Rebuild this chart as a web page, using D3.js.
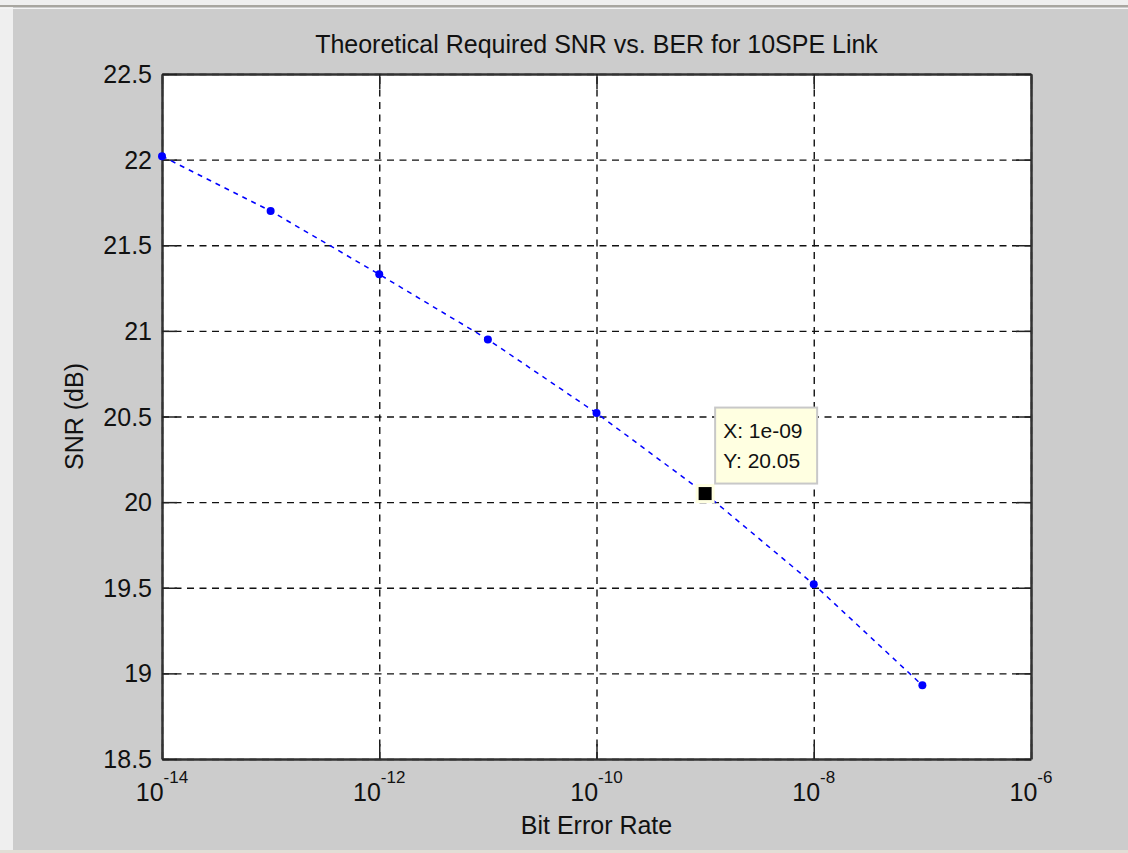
<!DOCTYPE html>
<html>
<head>
<meta charset="utf-8">
<script src="https://cdn.jsdelivr.net/npm/d3@7"></script>
<style>
  body { margin: 0; background: #cccccc; }
  text { font-family: "Liberation Sans", Arial, sans-serif; fill: #111; }
</style>
</head>
<body>
<div id="graph"></div>
<script>
// values
let ber = [1e-14, 1e-13, 1e-12, 1e-11, 1e-10, 1e-9, 1e-8, 1e-7];
let snr = [22.02, 21.70, 21.33, 20.95, 20.52, 20.05, 19.52, 18.93];
let xTicks = [1e-14, 1e-12, 1e-10, 1e-8, 1e-6];
let yTicks = [18.5, 19, 19.5, 20, 20.5, 21, 21.5, 22, 22.5];
let tipIndex = 5;
let tipLines = ["X: 1e-09", "Y: 20.05"];

let W = 1128, H = 853;
let pLeft = 162, pRight = 1031, pTop = 74, pBottom = 759;

let svg = d3.select("#graph").append("svg")
  .attr("width", W)
  .attr("height", H)
  .style("display", "block");

// window frame
svg.append("rect").attr("width", W).attr("height", H).attr("fill", "#cccccc");
svg.append("rect").attr("width", 13).attr("height", H).attr("fill", "#efefef");
svg.append("rect").attr("width", W).attr("height", 5).attr("fill", "#efefef");
svg.append("rect").attr("y", 5).attr("width", W).attr("height", 2).attr("fill", "#a8a6a0");
svg.append("rect").attr("y", 8).attr("width", W).attr("height", 1).attr("fill", "#f4f4f4");
svg.append("rect").attr("y", 850).attr("width", W).attr("height", 3).attr("fill", "#e2ded6");

let xScale = d3.scaleLog()
  .domain([1e-14, 1e-6])
  .range([pLeft, pRight]);

let yScale = d3.scaleLinear()
  .domain([18.5, 22.5])
  .range([pBottom, pTop]);

// plot area
svg.append("rect")
  .attr("x", pLeft).attr("y", pTop)
  .attr("width", pRight - pLeft).attr("height", pBottom - pTop)
  .attr("fill", "white");

// grid
let xGrid = svg.append("g")
  .attr("transform", "translate(0," + pBottom + ")")
  .call(d3.axisBottom(xScale).tickValues(xTicks).tickSize(-(pBottom - pTop)).tickFormat(""));
let yGrid = svg.append("g")
  .attr("transform", "translate(" + pLeft + ",0)")
  .call(d3.axisLeft(yScale).tickValues(yTicks).tickSize(-(pRight - pLeft)).tickFormat(""));
[xGrid, yGrid].forEach(function (g) {
  g.select(".domain").remove();
  g.selectAll("line")
    .attr("stroke", "#111")
    .attr("stroke-width", 1.4)
    .attr("stroke-dasharray", "7,5.5");
});

// inward ticks on four sides
let tl = 15;
let axes = [
  svg.append("g").attr("transform", "translate(0," + pBottom + ")")
    .call(d3.axisBottom(xScale).tickValues(xTicks).tickSizeInner(-tl).tickSizeOuter(0).tickFormat("")),
  svg.append("g").attr("transform", "translate(0," + pTop + ")")
    .call(d3.axisTop(xScale).tickValues(xTicks).tickSizeInner(-tl).tickSizeOuter(0).tickFormat("")),
  svg.append("g").attr("transform", "translate(" + pLeft + ",0)")
    .call(d3.axisLeft(yScale).tickValues(yTicks).tickSizeInner(-tl).tickSizeOuter(0).tickFormat("")),
  svg.append("g").attr("transform", "translate(" + pRight + ",0)")
    .call(d3.axisRight(yScale).tickValues(yTicks).tickSizeInner(-tl).tickSizeOuter(0).tickFormat(""))
];
axes.forEach(function (g) {
  g.selectAll("line").attr("stroke", "#222").attr("stroke-width", 1.5);
  g.select(".domain").attr("stroke", "#333").attr("stroke-width", 2.5);
});

// tick labels
svg.append("g").selectAll("text")
  .data(yTicks)
  .enter().append("text")
  .attr("x", pLeft - 10)
  .attr("y", function (d) { return yScale(d); })
  .attr("dy", "0.36em")
  .attr("text-anchor", "end")
  .attr("font-size", 25)
  .text(function (d) { return d; });

let xl = svg.append("g").selectAll("text")
  .data(xTicks)
  .enter().append("text")
  .attr("x", function (d) { return xScale(d); })
  .attr("y", 801)
  .attr("text-anchor", "middle")
  .attr("font-size", 25);
xl.append("tspan").text("10");
xl.append("tspan")
  .attr("font-size", 17)
  .attr("dy", -18)
  .text(function (d) { return Math.round(Math.log10(d)); });

// data line
let line = d3.line()
  .x(function (d, i) { return xScale(ber[i]); })
  .y(function (d) { return yScale(d); });

svg.append("path")
  .datum(snr)
  .attr("d", line)
  .attr("fill", "none")
  .attr("stroke", "#0000ff")
  .attr("stroke-width", 1.5)
  .attr("stroke-dasharray", "5,5");

svg.append("g").selectAll("circle")
  .data(snr)
  .enter().append("circle")
  .attr("cx", function (d, i) { return xScale(ber[i]); })
  .attr("cy", function (d) { return yScale(d); })
  .attr("r", 4)
  .attr("fill", "#0000ff");

// data tip
let px = xScale(ber[tipIndex]), py = yScale(snr[tipIndex]);
svg.append("rect")
  .attr("x", px - 8).attr("y", py - 8)
  .attr("width", 16).attr("height", 16)
  .attr("fill", "black")
  .attr("stroke", "#ffffe1")
  .attr("stroke-width", 3);

let tip = svg.append("g").attr("transform", "translate(" + (px + 10) + "," + (py - 86) + ")");
tip.append("rect")
  .attr("width", 102).attr("height", 76)
  .attr("fill", "#ffffe1")
  .attr("stroke", "#c8c8c8")
  .attr("stroke-width", 2);
tip.selectAll("text")
  .data(tipLines)
  .enter().append("text")
  .attr("x", 8)
  .attr("y", function (d, i) { return 30 + i * 30; })
  .attr("font-size", 21)
  .text(function (d) { return d; });

// titles
svg.append("text")
  .attr("x", (pLeft + pRight) / 2)
  .attr("y", 53)
  .attr("text-anchor", "middle")
  .attr("font-size", 25)
  .text("Theoretical Required SNR vs. BER for 10SPE Link");

svg.append("text")
  .attr("x", (pLeft + pRight) / 2)
  .attr("y", 834)
  .attr("text-anchor", "middle")
  .attr("font-size", 25)
  .text("Bit Error Rate");

svg.append("text")
  .attr("transform", "translate(83," + (pTop + pBottom) / 2 + ") rotate(-90)")
  .attr("text-anchor", "middle")
  .attr("font-size", 25)
  .text("SNR (dB)");
</script>
</body>
</html>
